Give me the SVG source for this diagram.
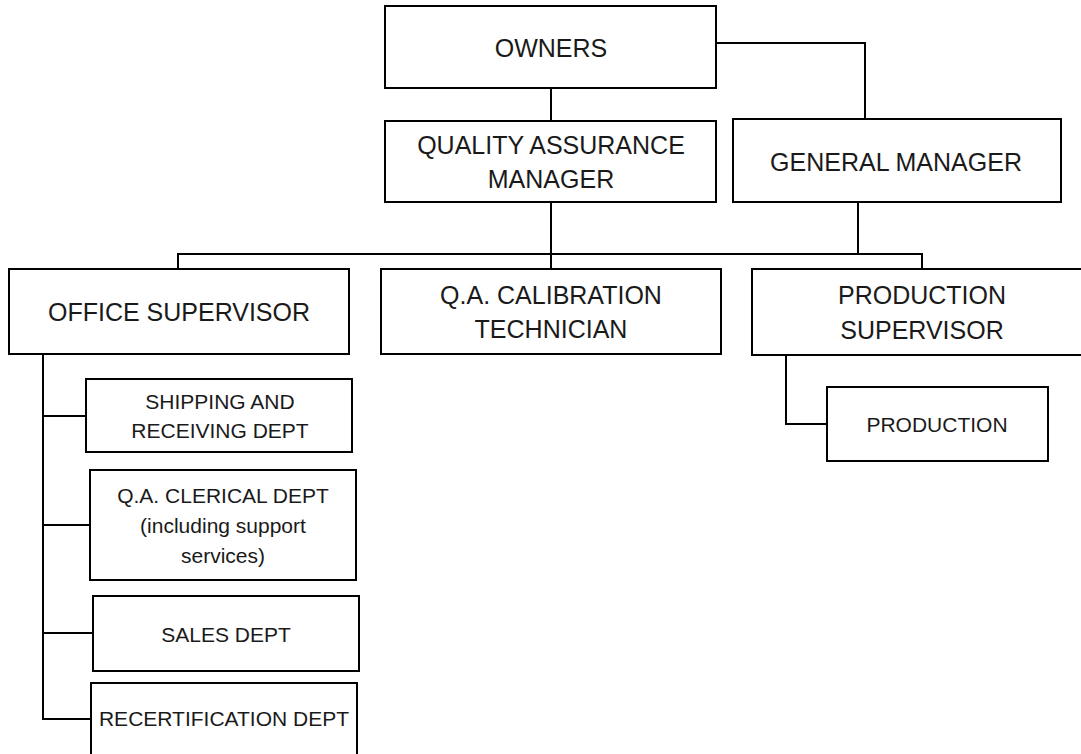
<svg xmlns="http://www.w3.org/2000/svg" width="1081" height="754" viewBox="0 0 1081 754">
<style>
.box{fill:#fff;stroke:#000;stroke-width:2}
.ln{fill:none;stroke:#000;stroke-width:2}
.t{font-family:"Liberation Sans",Arial,sans-serif;fill:#1a1a1a;text-anchor:middle}
.big{font-size:25px}
.sm{font-size:21px}
</style>
<rect width="1081" height="754" fill="#fff"/>
<g id="connectors">
<polyline class="ln" points="716,43 865,43 865,119"/>
<line class="ln" x1="551" y1="88" x2="551" y2="121"/>
<line class="ln" x1="551" y1="202" x2="551" y2="269"/>
<polyline class="ln" points="178,269 178,254 922,254 922,269"/>
<line class="ln" x1="858" y1="202" x2="858" y2="254"/>
<polyline class="ln" points="43,354 43,719 91,719"/>
<line class="ln" x1="43" y1="416" x2="86" y2="416"/>
<line class="ln" x1="43" y1="525" x2="90" y2="525"/>
<line class="ln" x1="43" y1="633" x2="93" y2="633"/>
<polyline class="ln" points="786,355 786,424 827,424"/>
</g>
<g id="owners">
<rect class="box" x="385" y="6" width="331" height="82"/>
<text class="t big" x="551" y="57">OWNERS</text>
</g>
<g id="qa-manager">
<rect class="box" x="385" y="121" width="331" height="81"/>
<text class="t big" x="551" y="154">QUALITY ASSURANCE</text>
<text class="t big" x="551" y="188">MANAGER</text>
</g>
<g id="general-manager">
<rect class="box" x="733" y="119" width="328" height="83"/>
<text class="t big" x="896" y="171" font-size="26">GENERAL MANAGER</text>
</g>
<g id="office-supervisor">
<rect class="box" x="9" y="269" width="340" height="85"/>
<text class="t big" x="179" y="321">OFFICE SUPERVISOR</text>
</g>
<g id="qa-calibration">
<rect class="box" x="381" y="269" width="340" height="85"/>
<text class="t big" x="551" y="304">Q.A. CALIBRATION</text>
<text class="t big" x="551" y="338">TECHNICIAN</text>
</g>
<g id="production-supervisor">
<rect class="box" x="752" y="269" width="340" height="86"/>
<text class="t big" x="922" y="304">PRODUCTION</text>
<text class="t big" x="922" y="339">SUPERVISOR</text>
</g>
<g id="production">
<rect class="box" x="827" y="387" width="221" height="74"/>
<text class="t sm" x="937" y="432" font-size="22">PRODUCTION</text>
</g>
<g id="shipping">
<rect class="box" x="86" y="379" width="266" height="73"/>
<text class="t sm" x="220" y="409">SHIPPING AND</text>
<text class="t sm" x="220" y="438">RECEIVING DEPT</text>
</g>
<g id="qa-clerical">
<rect class="box" x="90" y="470" width="266" height="110"/>
<text class="t sm" x="223" y="503">Q.A. CLERICAL DEPT</text>
<text class="t sm" x="223" y="533">(including support</text>
<text class="t sm" x="223" y="563">services)</text>
</g>
<g id="sales">
<rect class="box" x="93" y="596" width="266" height="75"/>
<text class="t sm" x="226" y="642">SALES DEPT</text>
</g>
<g id="recertification">
<rect class="box" x="91" y="683" width="266" height="90"/>
<text class="t sm" x="224" y="726">RECERTIFICATION DEPT</text>
</g>
</svg>
